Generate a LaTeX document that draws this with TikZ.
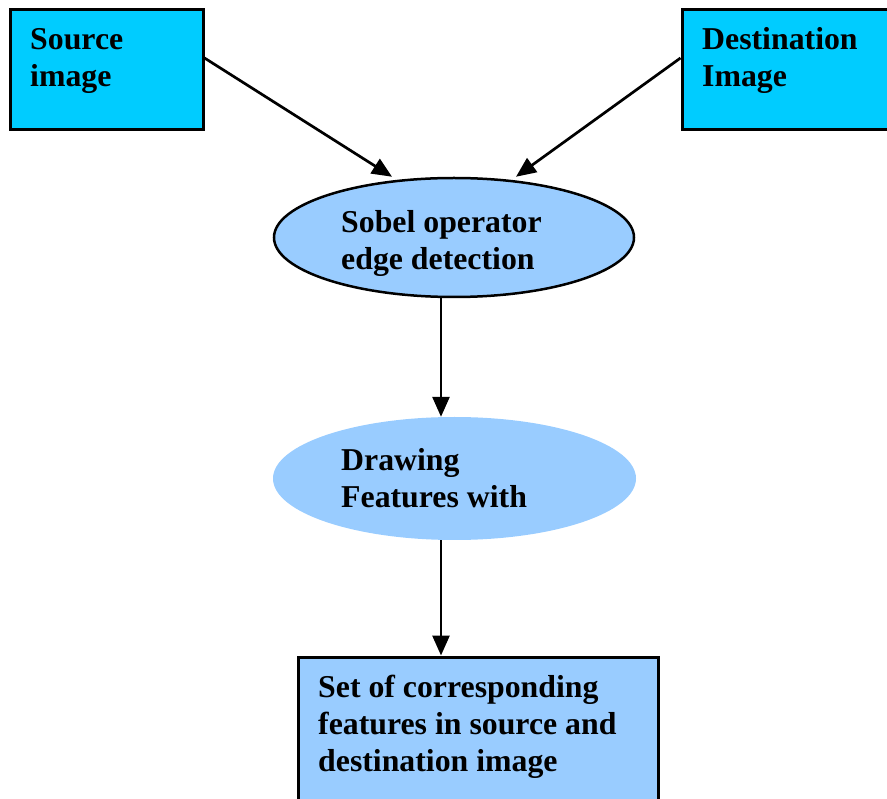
\documentclass[tikz,border=0pt]{standalone}
\usepackage{fontspec}
\setmainfont{Liberation Serif}
\usetikzlibrary{shapes.geometric,arrows.meta}

\definecolor{boxcyan}{HTML}{00CCFF}
\definecolor{ellblue}{HTML}{99CCFF}

\tikzset{
    inbox/.style={rectangle, draw=black, line width=3pt, fill=boxcyan, inner sep=0pt},
    outbox/.style={rectangle, draw=black, line width=3pt, fill=ellblue, inner sep=0pt},
    stage/.style={ellipse, fill=ellblue, inner sep=0pt},
    lbl/.style={align=left, inner sep=0pt, anchor=base west,
        font=\fontsize{31.8}{37}\selectfont\bfseries},
    flow/.style={line width=2.7pt, -{Triangle[length=20pt,width=17pt]}}
}

\begin{document}
\begin{tikzpicture}[x=1pt, y=-1pt]
    \useasboundingbox (0,0) rectangle (887,799);

    % input images
    \node (src) [inbox, minimum width=193pt, minimum height=120pt] at (106.5,70) {};
    \node (dst) [inbox, minimum width=240pt, minimum height=120pt] at (802,70) {};
    \node (srctxt) [lbl] at (30,87) {Source\\image};
    \node (dsttxt) [lbl] at (702,87) {Destination\\Image};

    % processing
    \node (sobel) [stage, draw=black, line width=2.5pt, minimum width=360pt, minimum height=119pt] at (454,237.5) {};
    \node (sobeltxt) [lbl] at (341,270) {Sobel operator\\edge detection};
    \node (feat) [stage, minimum width=363pt, minimum height=123pt] at (454.5,478.5) {};
    \node (feattxt) [lbl] at (341,508) {Drawing\\Features with};

    % result
    \node (res) [outbox, minimum width=360pt, minimum height=200pt] at (478,757) {};
    \node (restxt) [lbl] at (318,771) {Set of corresponding\\features in source and\\destination image};

    \draw[flow] ([yshift=12pt]src.east) -- ([xshift=-62pt]sobel.north);
    \draw[flow] ([yshift=12pt]dst.west) -- ([xshift=62pt]sobel.north);
    \draw[flow] ([xshift=-13pt]sobel.south) -- ([xshift=-13.5pt]feat.north);
    \draw[flow] ([xshift=-13.5pt]feat.south) -- ([xshift=-37pt]res.north);
\end{tikzpicture}
\end{document}
